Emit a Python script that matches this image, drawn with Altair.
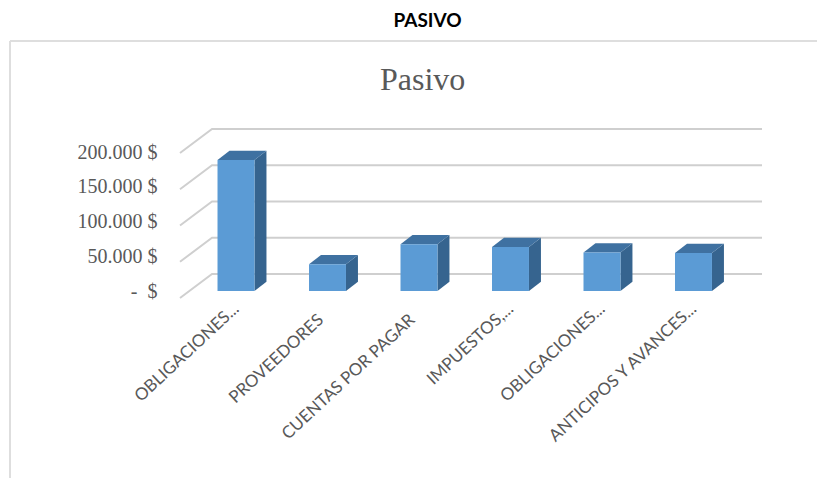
import altair as alt
import pandas as pd

categories = ["OBLIGACIONES...", "PROVEEDORES", "CUENTAS POR PAGAR", "IMPUESTOS,...", "OBLIGACIONES...", "ANTICIPOS Y AVANCES..."]
values = [180700, 37000, 64500, 60700, 53000, 52500]
grid_values = [0, 50000, 100000, 150000, 200000]

W, H = 807, 437
# scale set-up: one category step and one value unit in the picture
X_DOMAIN = [-2.47, 6.35]
Y_DOMAIN = [-257931, 344828]
HALF = 0.202
DX, DY = 0.131, 12800
BACK_DX, BACK_DY = -0.262, 23448
FRONT_DX, FRONT_DY = -0.612, -9655
RIGHT = 5.749

xs = alt.Scale(domain=X_DOMAIN, nice=False, zero=False)
ys = alt.Scale(domain=Y_DOMAIN, nice=False, zero=False)

grid_rows = []
for g in grid_values:
    grid_rows += [
        {"g": g, "o": 0, "x": FRONT_DX, "y": g + FRONT_DY},
        {"g": g, "o": 1, "x": BACK_DX, "y": g + BACK_DY},
        {"g": g, "o": 2, "x": RIGHT, "y": g + BACK_DY},
    ]
grid = alt.Chart(pd.DataFrame(grid_rows)).mark_line(color="#CFCFCF", strokeWidth=2).encode(
    x=alt.X("x:Q", scale=xs, axis=None),
    y=alt.Y("y:Q", scale=ys, axis=None),
    detail="g:N",
    order="o:Q",
)

front = pd.DataFrame([{"i": i, "cat": c, "x": i - HALF, "x2": i + HALF, "y": 0, "y2": v}
                      for i, (c, v) in enumerate(zip(categories, values))])
side_rows, top_rows = [], []
for i, v in enumerate(values):
    r, l = i + HALF, i - HALF
    side_rows += [{"i": i, "x": r, "y": 0, "y2": v}, {"i": i, "x": r + DX, "y": DY, "y2": v + DY}]
    top_rows += [
        {"i": i, "x": l, "y": v, "y2": v},
        {"i": i, "x": l + DX, "y": v, "y2": v + DY},
        {"i": i, "x": r, "y": v, "y2": v + DY},
        {"i": i, "x": r + DX, "y": v + DY, "y2": v + DY},
    ]

label_array = "[" + ",".join("'" + c + "'" for c in categories) + "]"


def category_axis(positions, orient, offset, label_offset):
    return alt.Axis(
        values=positions,
        orient=orient,
        labelExpr=label_array + "[datum.value]",
        labelAngle=-43,
        labelAlign="right",
        labelBaseline="middle",
        labelFont="Lato",
        labelFontSize=17,
        labelColor="#595959",
        labelPadding=0,
        labelLimit=400,
        labelOverlap=False,
        labelFlush=False,
        labelBound=False,
        labelOffset=label_offset,
        domain=False,
        ticks=False,
        grid=False,
        title=None,
        offset=offset,
    )


# shortened labels end higher than the full ones in the reference, so they take two axes
shortened = [i for i, c in enumerate(categories) if c.endswith("...")]
full = [i for i, c in enumerate(categories) if not c.endswith("...")]

front_face = alt.Chart(front).mark_rect(color="#5B9BD5").encode(
    x=alt.X("x:Q", scale=xs, axis=category_axis(shortened, "top", -265, 0)),
    x2="x2:Q",
    y=alt.Y("y:Q", scale=ys, axis=None),
    y2="y2:Q",
)
side_face = alt.Chart(pd.DataFrame(side_rows)).mark_area(color="#36648F", orient="vertical").encode(
    x=alt.X("x:Q", scale=xs, axis=category_axis(full, "bottom", -161, -7)),
    y=alt.Y("y:Q", scale=ys, axis=None, stack=None),
    y2="y2:Q",
    detail="i:N",
)
top_face = alt.Chart(pd.DataFrame(top_rows)).mark_area(color="#3F71A1", orient="vertical").encode(
    x=alt.X("x:Q", scale=xs, axis=None),
    y=alt.Y("y:Q", scale=ys, axis=None, stack=None),
    y2="y2:Q",
    detail="i:N",
)

bars = alt.layer(grid, side_face, top_face, front_face).resolve_axis(x="independent")

value_labels = alt.Chart(pd.DataFrame({"v": grid_values})).mark_point(opacity=0).encode(
    x=alt.value(0),
    y=alt.Y(
        "v:Q",
        scale=alt.Scale(domain=[0, 200000], range=[250, 111], nice=False, zero=False),
        axis=alt.Axis(
            values=grid_values,
            labelExpr="datum.value == 0 ? '-\u00a0\u00a0$' : replace(format(datum.value, ',d'), ',', '.') + ' $'",
            labelFont="Liberation Serif",
            labelFontSize=20,
            labelColor="#595959",
            labelPadding=0,
            labelOverlap=False,
            domain=False,
            ticks=False,
            grid=False,
            title=None,
            offset=-147,
        ),
    ),
)

frame_top = alt.Chart(pd.DataFrame({"a": [0]})).mark_rule(color="#DEDEDE", strokeWidth=2).encode(
    x=alt.value(0), x2=alt.value(W), y=alt.value(0))
frame_left = alt.Chart(pd.DataFrame({"a": [0]})).mark_rule(color="#DEDEDE", strokeWidth=2).encode(
    x=alt.value(0), y=alt.value(0), y2=alt.value(H))
caption = alt.Chart(pd.DataFrame({"t": ["PASIVO"]})).mark_text(
    font="Lato", fontSize=19, fontWeight="bold", color="#000000"
).encode(x=alt.value(417.5), y=alt.value(-20.5), text="t:N")

chart = alt.layer(frame_top, frame_left, caption, bars, value_labels).resolve_scale(
    y="independent"
).resolve_axis(y="independent", x="independent").properties(
    width=W,
    height=H,
    autosize=alt.AutoSizeParams(type="none"),
    padding={"left": 2, "top": 33, "right": 0, "bottom": 0},
    title=alt.TitleParams(
        "Pasivo",
        font="Liberation Serif",
        fontSize=32,
        fontWeight="normal",
        color="#595959",
        anchor="start",
        frame="group",
        dx=370,
        offset=-85,
    ),
).configure_view(stroke=None)

chart.save("out.html", embed_options={"renderer": "svg", "actions": False})
